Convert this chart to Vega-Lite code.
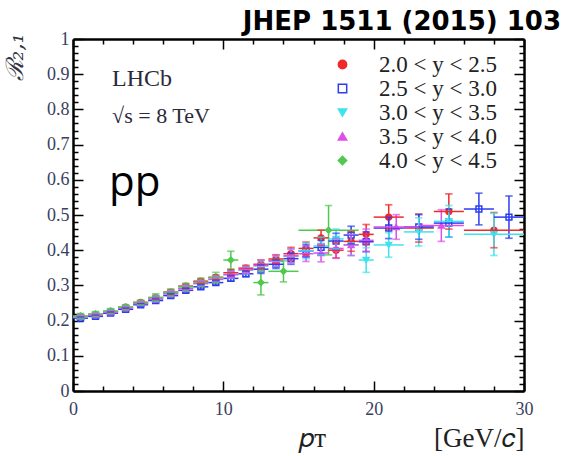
{
  "$schema": "https://vega.github.io/schema/vega-lite/v6.json",
  "width": 451,
  "height": 352,
  "autosize": {"type": "none"},
  "padding": {"left": 73, "top": 39, "right": 46, "bottom": 65},
  "background": "white",
  "config": {"view": {"stroke": null}},
  "title": {
    "text": "JHEP 1511 (2015) 103",
    "anchor": "end",
    "frame": "group",
    "dx": 37,
    "dy": 33,
    "offset": 2,
    "baseline": "bottom",
    "font": "DejaVu Sans",
    "fontSize": 26,
    "fontWeight": "bold",
    "color": "#000000"
  },
  "data": {
    "values": [
      {"s": "2.0 < y < 2.5", "pt": 0.5, "lo": 0, "hi": 1, "r": 0.212, "rlo": 0.208, "rhi": 0.216},
      {"s": "2.0 < y < 2.5", "pt": 1.5, "lo": 1, "hi": 2, "r": 0.217, "rlo": 0.213, "rhi": 0.221},
      {"s": "2.0 < y < 2.5", "pt": 2.5, "lo": 2, "hi": 3, "r": 0.226, "rlo": 0.222, "rhi": 0.230},
      {"s": "2.0 < y < 2.5", "pt": 3.5, "lo": 3, "hi": 4, "r": 0.238, "rlo": 0.234, "rhi": 0.242},
      {"s": "2.0 < y < 2.5", "pt": 4.5, "lo": 4, "hi": 5, "r": 0.252, "rlo": 0.248, "rhi": 0.256},
      {"s": "2.0 < y < 2.5", "pt": 5.5, "lo": 5, "hi": 6, "r": 0.265, "rlo": 0.259, "rhi": 0.271},
      {"s": "2.0 < y < 2.5", "pt": 6.5, "lo": 6, "hi": 7, "r": 0.281, "rlo": 0.275, "rhi": 0.287},
      {"s": "2.0 < y < 2.5", "pt": 7.5, "lo": 7, "hi": 8, "r": 0.298, "rlo": 0.292, "rhi": 0.304},
      {"s": "2.0 < y < 2.5", "pt": 8.5, "lo": 8, "hi": 9, "r": 0.312, "rlo": 0.306, "rhi": 0.318},
      {"s": "2.0 < y < 2.5", "pt": 9.5, "lo": 9, "hi": 10, "r": 0.323, "rlo": 0.317, "rhi": 0.329},
      {"s": "2.0 < y < 2.5", "pt": 10.5, "lo": 10, "hi": 11, "r": 0.336, "rlo": 0.328, "rhi": 0.344},
      {"s": "2.0 < y < 2.5", "pt": 11.5, "lo": 11, "hi": 12, "r": 0.349, "rlo": 0.341, "rhi": 0.357},
      {"s": "2.0 < y < 2.5", "pt": 12.5, "lo": 12, "hi": 13, "r": 0.360, "rlo": 0.348, "rhi": 0.372},
      {"s": "2.0 < y < 2.5", "pt": 13.5, "lo": 13, "hi": 14, "r": 0.375, "rlo": 0.363, "rhi": 0.387},
      {"s": "2.0 < y < 2.5", "pt": 14.5, "lo": 14, "hi": 15, "r": 0.390, "rlo": 0.372, "rhi": 0.408},
      {"s": "2.0 < y < 2.5", "pt": 15.5, "lo": 15, "hi": 16, "r": 0.405, "rlo": 0.387, "rhi": 0.423},
      {"s": "2.0 < y < 2.5", "pt": 16.5, "lo": 16, "hi": 17, "r": 0.435, "rlo": 0.413, "rhi": 0.457},
      {"s": "2.0 < y < 2.5", "pt": 17.5, "lo": 17, "hi": 18, "r": 0.400, "rlo": 0.378, "rhi": 0.422},
      {"s": "2.0 < y < 2.5", "pt": 18.5, "lo": 18, "hi": 19, "r": 0.425, "rlo": 0.397, "rhi": 0.453},
      {"s": "2.0 < y < 2.5", "pt": 19.5, "lo": 19, "hi": 20, "r": 0.445, "rlo": 0.417, "rhi": 0.473},
      {"s": "2.0 < y < 2.5", "pt": 21, "lo": 20, "hi": 22, "r": 0.494, "rlo": 0.459, "rhi": 0.529},
      {"s": "2.0 < y < 2.5", "pt": 23, "lo": 22, "hi": 24, "r": 0.463, "rlo": 0.423, "rhi": 0.503},
      {"s": "2.0 < y < 2.5", "pt": 25, "lo": 24, "hi": 26, "r": 0.510, "rlo": 0.460, "rhi": 0.560},
      {"s": "2.0 < y < 2.5", "pt": 28, "lo": 26, "hi": 30, "r": 0.457, "rlo": 0.407, "rhi": 0.507},

      {"s": "2.5 < y < 3.0", "pt": 0.5, "lo": 0, "hi": 1, "r": 0.207, "rlo": 0.203, "rhi": 0.211},
      {"s": "2.5 < y < 3.0", "pt": 1.5, "lo": 1, "hi": 2, "r": 0.212, "rlo": 0.208, "rhi": 0.216},
      {"s": "2.5 < y < 3.0", "pt": 2.5, "lo": 2, "hi": 3, "r": 0.221, "rlo": 0.217, "rhi": 0.225},
      {"s": "2.5 < y < 3.0", "pt": 3.5, "lo": 3, "hi": 4, "r": 0.232, "rlo": 0.228, "rhi": 0.236},
      {"s": "2.5 < y < 3.0", "pt": 4.5, "lo": 4, "hi": 5, "r": 0.245, "rlo": 0.241, "rhi": 0.249},
      {"s": "2.5 < y < 3.0", "pt": 5.5, "lo": 5, "hi": 6, "r": 0.257, "rlo": 0.251, "rhi": 0.263},
      {"s": "2.5 < y < 3.0", "pt": 6.5, "lo": 6, "hi": 7, "r": 0.271, "rlo": 0.265, "rhi": 0.277},
      {"s": "2.5 < y < 3.0", "pt": 7.5, "lo": 7, "hi": 8, "r": 0.286, "rlo": 0.280, "rhi": 0.292},
      {"s": "2.5 < y < 3.0", "pt": 8.5, "lo": 8, "hi": 9, "r": 0.296, "rlo": 0.290, "rhi": 0.302},
      {"s": "2.5 < y < 3.0", "pt": 9.5, "lo": 9, "hi": 10, "r": 0.308, "rlo": 0.302, "rhi": 0.314},
      {"s": "2.5 < y < 3.0", "pt": 10.5, "lo": 10, "hi": 11, "r": 0.320, "rlo": 0.312, "rhi": 0.328},
      {"s": "2.5 < y < 3.0", "pt": 11.5, "lo": 11, "hi": 12, "r": 0.333, "rlo": 0.325, "rhi": 0.341},
      {"s": "2.5 < y < 3.0", "pt": 12.5, "lo": 12, "hi": 13, "r": 0.346, "rlo": 0.334, "rhi": 0.358},
      {"s": "2.5 < y < 3.0", "pt": 13.5, "lo": 13, "hi": 14, "r": 0.360, "rlo": 0.348, "rhi": 0.372},
      {"s": "2.5 < y < 3.0", "pt": 14.5, "lo": 14, "hi": 15, "r": 0.376, "rlo": 0.360, "rhi": 0.392},
      {"s": "2.5 < y < 3.0", "pt": 15.5, "lo": 15, "hi": 16, "r": 0.398, "rlo": 0.380, "rhi": 0.416},
      {"s": "2.5 < y < 3.0", "pt": 16.5, "lo": 16, "hi": 17, "r": 0.408, "rlo": 0.388, "rhi": 0.428},
      {"s": "2.5 < y < 3.0", "pt": 17.5, "lo": 17, "hi": 18, "r": 0.426, "rlo": 0.404, "rhi": 0.448},
      {"s": "2.5 < y < 3.0", "pt": 18.5, "lo": 18, "hi": 19, "r": 0.443, "rlo": 0.418, "rhi": 0.468},
      {"s": "2.5 < y < 3.0", "pt": 19.5, "lo": 19, "hi": 20, "r": 0.424, "rlo": 0.396, "rhi": 0.452},
      {"s": "2.5 < y < 3.0", "pt": 21, "lo": 20, "hi": 22, "r": 0.463, "rlo": 0.433, "rhi": 0.493},
      {"s": "2.5 < y < 3.0", "pt": 23, "lo": 22, "hi": 24, "r": 0.466, "rlo": 0.431, "rhi": 0.501},
      {"s": "2.5 < y < 3.0", "pt": 25, "lo": 24, "hi": 26, "r": 0.477, "rlo": 0.437, "rhi": 0.517},
      {"s": "2.5 < y < 3.0", "pt": 27, "lo": 26, "hi": 28, "r": 0.517, "rlo": 0.472, "rhi": 0.562},
      {"s": "2.5 < y < 3.0", "pt": 29, "lo": 28, "hi": 30, "r": 0.494, "rlo": 0.434, "rhi": 0.554},

      {"s": "3.0 < y < 3.5", "pt": 0.5, "lo": 0, "hi": 1, "r": 0.210, "rlo": 0.205, "rhi": 0.215},
      {"s": "3.0 < y < 3.5", "pt": 1.5, "lo": 1, "hi": 2, "r": 0.216, "rlo": 0.211, "rhi": 0.221},
      {"s": "3.0 < y < 3.5", "pt": 2.5, "lo": 2, "hi": 3, "r": 0.225, "rlo": 0.220, "rhi": 0.230},
      {"s": "3.0 < y < 3.5", "pt": 3.5, "lo": 3, "hi": 4, "r": 0.236, "rlo": 0.231, "rhi": 0.241},
      {"s": "3.0 < y < 3.5", "pt": 4.5, "lo": 4, "hi": 5, "r": 0.249, "rlo": 0.244, "rhi": 0.254},
      {"s": "3.0 < y < 3.5", "pt": 5.5, "lo": 5, "hi": 6, "r": 0.262, "rlo": 0.254, "rhi": 0.270},
      {"s": "3.0 < y < 3.5", "pt": 6.5, "lo": 6, "hi": 7, "r": 0.277, "rlo": 0.269, "rhi": 0.285},
      {"s": "3.0 < y < 3.5", "pt": 7.5, "lo": 7, "hi": 8, "r": 0.292, "rlo": 0.284, "rhi": 0.300},
      {"s": "3.0 < y < 3.5", "pt": 8.5, "lo": 8, "hi": 9, "r": 0.306, "rlo": 0.298, "rhi": 0.314},
      {"s": "3.0 < y < 3.5", "pt": 9.5, "lo": 9, "hi": 10, "r": 0.318, "rlo": 0.310, "rhi": 0.326},
      {"s": "3.0 < y < 3.5", "pt": 10.5, "lo": 10, "hi": 11, "r": 0.330, "rlo": 0.320, "rhi": 0.340},
      {"s": "3.0 < y < 3.5", "pt": 11.5, "lo": 11, "hi": 12, "r": 0.343, "rlo": 0.333, "rhi": 0.353},
      {"s": "3.0 < y < 3.5", "pt": 12.5, "lo": 12, "hi": 13, "r": 0.355, "rlo": 0.340, "rhi": 0.370},
      {"s": "3.0 < y < 3.5", "pt": 13.5, "lo": 13, "hi": 14, "r": 0.368, "rlo": 0.353, "rhi": 0.383},
      {"s": "3.0 < y < 3.5", "pt": 14.5, "lo": 14, "hi": 15, "r": 0.383, "rlo": 0.363, "rhi": 0.403},
      {"s": "3.0 < y < 3.5", "pt": 15.5, "lo": 15, "hi": 16, "r": 0.398, "rlo": 0.376, "rhi": 0.420},
      {"s": "3.0 < y < 3.5", "pt": 16.5, "lo": 16, "hi": 17, "r": 0.412, "rlo": 0.387, "rhi": 0.437},
      {"s": "3.0 < y < 3.5", "pt": 17.5, "lo": 17, "hi": 18, "r": 0.432, "rlo": 0.404, "rhi": 0.460},
      {"s": "3.0 < y < 3.5", "pt": 18.5, "lo": 18, "hi": 19, "r": 0.415, "rlo": 0.385, "rhi": 0.445},
      {"s": "3.0 < y < 3.5", "pt": 19.5, "lo": 19, "hi": 20, "r": 0.372, "rlo": 0.337, "rhi": 0.407},
      {"s": "3.0 < y < 3.5", "pt": 21, "lo": 20, "hi": 22, "r": 0.415, "rlo": 0.380, "rhi": 0.450},
      {"s": "3.0 < y < 3.5", "pt": 23, "lo": 22, "hi": 24, "r": 0.452, "rlo": 0.412, "rhi": 0.492},
      {"s": "3.0 < y < 3.5", "pt": 25, "lo": 24, "hi": 26, "r": 0.482, "rlo": 0.437, "rhi": 0.527},
      {"s": "3.0 < y < 3.5", "pt": 28, "lo": 26, "hi": 30, "r": 0.445, "rlo": 0.385, "rhi": 0.505},

      {"s": "3.5 < y < 4.0", "pt": 0.5, "lo": 0, "hi": 1, "r": 0.211, "rlo": 0.206, "rhi": 0.216},
      {"s": "3.5 < y < 4.0", "pt": 1.5, "lo": 1, "hi": 2, "r": 0.215, "rlo": 0.210, "rhi": 0.220},
      {"s": "3.5 < y < 4.0", "pt": 2.5, "lo": 2, "hi": 3, "r": 0.224, "rlo": 0.219, "rhi": 0.229},
      {"s": "3.5 < y < 4.0", "pt": 3.5, "lo": 3, "hi": 4, "r": 0.235, "rlo": 0.230, "rhi": 0.240},
      {"s": "3.5 < y < 4.0", "pt": 4.5, "lo": 4, "hi": 5, "r": 0.248, "rlo": 0.243, "rhi": 0.253},
      {"s": "3.5 < y < 4.0", "pt": 5.5, "lo": 5, "hi": 6, "r": 0.261, "rlo": 0.253, "rhi": 0.269},
      {"s": "3.5 < y < 4.0", "pt": 6.5, "lo": 6, "hi": 7, "r": 0.276, "rlo": 0.268, "rhi": 0.284},
      {"s": "3.5 < y < 4.0", "pt": 7.5, "lo": 7, "hi": 8, "r": 0.291, "rlo": 0.283, "rhi": 0.299},
      {"s": "3.5 < y < 4.0", "pt": 8.5, "lo": 8, "hi": 9, "r": 0.305, "rlo": 0.297, "rhi": 0.313},
      {"s": "3.5 < y < 4.0", "pt": 9.5, "lo": 9, "hi": 10, "r": 0.317, "rlo": 0.309, "rhi": 0.325},
      {"s": "3.5 < y < 4.0", "pt": 10.5, "lo": 10, "hi": 11, "r": 0.331, "rlo": 0.321, "rhi": 0.341},
      {"s": "3.5 < y < 4.0", "pt": 11.5, "lo": 11, "hi": 12, "r": 0.345, "rlo": 0.335, "rhi": 0.355},
      {"s": "3.5 < y < 4.0", "pt": 12.5, "lo": 12, "hi": 13, "r": 0.357, "rlo": 0.342, "rhi": 0.372},
      {"s": "3.5 < y < 4.0", "pt": 13.5, "lo": 13, "hi": 14, "r": 0.370, "rlo": 0.355, "rhi": 0.385},
      {"s": "3.5 < y < 4.0", "pt": 14.5, "lo": 14, "hi": 15, "r": 0.384, "rlo": 0.364, "rhi": 0.404},
      {"s": "3.5 < y < 4.0", "pt": 15.5, "lo": 15, "hi": 16, "r": 0.390, "rlo": 0.368, "rhi": 0.412},
      {"s": "3.5 < y < 4.0", "pt": 16.5, "lo": 16, "hi": 17, "r": 0.392, "rlo": 0.367, "rhi": 0.417},
      {"s": "3.5 < y < 4.0", "pt": 17.5, "lo": 17, "hi": 18, "r": 0.405, "rlo": 0.377, "rhi": 0.433},
      {"s": "3.5 < y < 4.0", "pt": 18.5, "lo": 18, "hi": 19, "r": 0.415, "rlo": 0.385, "rhi": 0.445},
      {"s": "3.5 < y < 4.0", "pt": 19.5, "lo": 19, "hi": 20, "r": 0.428, "rlo": 0.396, "rhi": 0.460},
      {"s": "3.5 < y < 4.0", "pt": 21.5, "lo": 20, "hi": 23, "r": 0.466, "rlo": 0.431, "rhi": 0.501},
      {"s": "3.5 < y < 4.0", "pt": 24.5, "lo": 23, "hi": 26, "r": 0.470, "rlo": 0.425, "rhi": 0.515},

      {"s": "4.0 < y < 4.5", "pt": 0.5, "lo": 0, "hi": 1, "r": 0.213, "rlo": 0.206, "rhi": 0.220},
      {"s": "4.0 < y < 4.5", "pt": 1.5, "lo": 1, "hi": 2, "r": 0.219, "rlo": 0.212, "rhi": 0.226},
      {"s": "4.0 < y < 4.5", "pt": 2.5, "lo": 2, "hi": 3, "r": 0.227, "rlo": 0.220, "rhi": 0.234},
      {"s": "4.0 < y < 4.5", "pt": 3.5, "lo": 3, "hi": 4, "r": 0.238, "rlo": 0.231, "rhi": 0.245},
      {"s": "4.0 < y < 4.5", "pt": 4.5, "lo": 4, "hi": 5, "r": 0.251, "rlo": 0.244, "rhi": 0.258},
      {"s": "4.0 < y < 4.5", "pt": 5.5, "lo": 5, "hi": 6, "r": 0.266, "rlo": 0.256, "rhi": 0.276},
      {"s": "4.0 < y < 4.5", "pt": 6.5, "lo": 6, "hi": 7, "r": 0.280, "rlo": 0.270, "rhi": 0.290},
      {"s": "4.0 < y < 4.5", "pt": 7.5, "lo": 7, "hi": 8, "r": 0.296, "rlo": 0.286, "rhi": 0.306},
      {"s": "4.0 < y < 4.5", "pt": 8.5, "lo": 8, "hi": 9, "r": 0.309, "rlo": 0.297, "rhi": 0.321},
      {"s": "4.0 < y < 4.5", "pt": 9.5, "lo": 9, "hi": 10, "r": 0.322, "rlo": 0.307, "rhi": 0.337},
      {"s": "4.0 < y < 4.5", "pt": 10.5, "lo": 10, "hi": 11, "r": 0.372, "rlo": 0.347, "rhi": 0.397},
      {"s": "4.0 < y < 4.5", "pt": 12.5, "lo": 12, "hi": 13, "r": 0.308, "rlo": 0.273, "rhi": 0.343},
      {"s": "4.0 < y < 4.5", "pt": 14, "lo": 13, "hi": 15, "r": 0.340, "rlo": 0.310, "rhi": 0.370},
      {"s": "4.0 < y < 4.5", "pt": 17, "lo": 15, "hi": 19, "r": 0.457, "rlo": 0.387, "rhi": 0.527}
    ]
  },
  "resolve": {"axis": {"x": "independent", "y": "independent"}},
  "layer": [
    {
      "mark": {"type": "point", "size": 34, "strokeWidth": 1.5, "opacity": 1},
      "encoding": {
        "x": {
          "field": "pt", "type": "quantitative",
          "scale": {"domain": [0, 30], "nice": false, "zero": false},
          "axis": {
            "orient": "bottom",
            "values": [0, 2, 4, 6, 8, 10, 12, 14, 16, 18, 20, 22, 24, 26, 28, 30],
            "labelExpr": "datum.value % 10 === 0 ? datum.label : ''",
            "tickSize": {"condition": {"test": "datum.value % 10 === 0", "value": -10}, "value": -5},
            "tickColor": "#000000", "tickWidth": 1.5,
            "domainColor": "#000000", "domainWidth": 2.5,
            "grid": false,
            "labelPadding": 19,
            "labelFont": "Liberation Serif", "labelFontSize": 18, "labelColor": "#3a4060",
            "labelFlush": false, "labelOverlap": false,
            "title": "𝑝ᴛ\u00a0\u00a0\u00a0\u00a0\u00a0\u00a0\u00a0\u00a0\u00a0\u00a0\u00a0\u00a0\u00a0\u00a0\u00a0\u00a0[GeV/𝑐]",
            "titleFont": "Liberation Serif", "titleFontSize": 27, "titleFontWeight": "normal",
            "titleColor": "#222222", "titleAnchor": "end", "titlePadding": 2
          }
        },
        "y": {
          "field": "r", "type": "quantitative",
          "scale": {"domain": [0, 1], "nice": false, "zero": false},
          "axis": {
            "orient": "left",
            "values": [0, 0.02, 0.04, 0.06, 0.08, 0.1, 0.12, 0.14, 0.16, 0.18, 0.2, 0.22, 0.24, 0.26, 0.28, 0.3, 0.32, 0.34, 0.36, 0.38, 0.4, 0.42, 0.44, 0.46, 0.48, 0.5, 0.52, 0.54, 0.56, 0.58, 0.6, 0.62, 0.64, 0.66, 0.68, 0.7, 0.72, 0.74, 0.76, 0.78, 0.8, 0.82, 0.84, 0.86, 0.88, 0.9, 0.92, 0.94, 0.96, 0.98, 1],
            "labelExpr": "abs(datum.value*10 - round(datum.value*10)) < 0.001 ? format(datum.value, '.1~f') : ''",
            "tickSize": {"condition": {"test": "abs(datum.value*10 - round(datum.value*10)) < 0.001", "value": -10}, "value": -5},
            "tickColor": "#000000", "tickWidth": 1.5,
            "domainColor": "#000000", "domainWidth": 2.5,
            "grid": false,
            "labelPadding": 14,
            "labelFont": "Liberation Serif", "labelFontSize": 18, "labelColor": "#3a4060",
            "labelFlush": false, "labelOverlap": false,
            "title": "ℛ₂,₁",
            "titleFont": "DejaVu Serif", "titleFontSize": 24, "titleFontWeight": "normal", "titleFontStyle": "italic",
            "titleColor": "#333344", "titleX": -58, "titleY": -6, "titleAlign": "right", "titleBaseline": "middle", "titleAngle": -90
          }
        },
        "shape": {
          "field": "s", "type": "nominal",
          "scale": {"domain": ["2.0 < y < 2.5", "2.5 < y < 3.0", "3.0 < y < 3.5", "3.5 < y < 4.0", "4.0 < y < 4.5"], "range": ["circle", "square", "triangle-down", "triangle-up", "diamond"]},
          "legend": {
            "title": null, "orient": "none", "legendX": 258, "legendY": 14,
            "labelFont": "Liberation Serif", "labelFontSize": 23, "labelColor": "#222222",
            "symbolSize": 70, "symbolStrokeWidth": 1.5, "rowPadding": 0, "labelOffset": 25
          }
        },
        "stroke": {
          "field": "s", "type": "nominal",
          "scale": {"domain": ["2.0 < y < 2.5", "2.5 < y < 3.0", "3.0 < y < 3.5", "3.5 < y < 4.0", "4.0 < y < 4.5"], "range": ["#ee2a2a", "#2b3df0", "#3fe3f0", "#de4ee8", "#4fc94f"]},
          "legend": {
            "title": null, "orient": "none", "legendX": 258, "legendY": 14,
            "labelFont": "Liberation Serif", "labelFontSize": 23, "labelColor": "#222222",
            "symbolSize": 70, "symbolStrokeWidth": 1.5, "rowPadding": 0, "labelOffset": 25
          }
        },
        "fill": {
          "field": "s", "type": "nominal",
          "scale": {"domain": ["2.0 < y < 2.5", "2.5 < y < 3.0", "3.0 < y < 3.5", "3.5 < y < 4.0", "4.0 < y < 4.5"], "range": ["#ee2a2a", "#ffffff", "#3fe3f0", "#de4ee8", "#4fc94f"]},
          "legend": {
            "title": null, "orient": "none", "legendX": 258, "legendY": 14,
            "labelFont": "Liberation Serif", "labelFontSize": 23, "labelColor": "#222222",
            "symbolSize": 70, "symbolStrokeWidth": 1.5, "rowPadding": 0, "labelOffset": 25
          }
        }
      }
    },
    {
      "mark": {"type": "rule", "strokeWidth": 1.5},
      "encoding": {
        "x": {"field": "pt", "type": "quantitative", "axis": null},
        "y": {"field": "rlo", "type": "quantitative", "axis": null},
        "y2": {"field": "rhi"},
        "stroke": {"field": "s", "type": "nominal"}
      }
    },
    {
      "mark": {"type": "rule", "strokeWidth": 1.5},
      "encoding": {
        "x": {"field": "lo", "type": "quantitative", "axis": null},
        "x2": {"field": "hi"},
        "y": {"field": "r", "type": "quantitative", "axis": null},
        "stroke": {"field": "s", "type": "nominal"}
      }
    },
    {
      "mark": {"type": "tick", "orient": "horizontal", "filled": false, "size": 6, "thickness": 0.3, "strokeWidth": 1.4},
      "encoding": {
        "x": {"field": "pt", "type": "quantitative", "axis": null},
        "y": {"field": "rlo", "type": "quantitative", "axis": null},
        "stroke": {"field": "s", "type": "nominal"}
      }
    },
    {
      "mark": {"type": "tick", "orient": "horizontal", "filled": false, "size": 6, "thickness": 0.3, "strokeWidth": 1.4},
      "encoding": {
        "x": {"field": "pt", "type": "quantitative", "axis": null},
        "y": {"field": "rhi", "type": "quantitative", "axis": null},
        "stroke": {"field": "s", "type": "nominal"}
      }
    },
    {
      "mark": {"type": "point", "opacity": 0},
      "encoding": {
        "x": {
          "field": "pt", "type": "quantitative",
          "axis": {
            "orient": "top",
            "values": [0, 2, 4, 6, 8, 10, 12, 14, 16, 18, 20, 22, 24, 26, 28, 30],
            "labels": false,
            "tickSize": {"condition": {"test": "datum.value % 10 === 0", "value": -10}, "value": -5},
            "tickColor": "#000000", "tickWidth": 1.5,
            "domainColor": "#000000", "domainWidth": 2.5,
            "grid": false, "title": null
          }
        },
        "y": {
          "field": "r", "type": "quantitative",
          "axis": {
            "orient": "right",
            "values": [0, 0.02, 0.04, 0.06, 0.08, 0.1, 0.12, 0.14, 0.16, 0.18, 0.2, 0.22, 0.24, 0.26, 0.28, 0.3, 0.32, 0.34, 0.36, 0.38, 0.4, 0.42, 0.44, 0.46, 0.48, 0.5, 0.52, 0.54, 0.56, 0.58, 0.6, 0.62, 0.64, 0.66, 0.68, 0.7, 0.72, 0.74, 0.76, 0.78, 0.8, 0.82, 0.84, 0.86, 0.88, 0.9, 0.92, 0.94, 0.96, 0.98, 1],
            "labels": false,
            "tickSize": {"condition": {"test": "abs(datum.value*10 - round(datum.value*10)) < 0.001", "value": -10}, "value": -5},
            "tickColor": "#000000", "tickWidth": 1.5,
            "domainColor": "#000000", "domainWidth": 2.5,
            "grid": false, "title": null
          }
        }
      }
    },
    {
      "data": {"values": [{}]},
      "mark": {"type": "text", "text": "LHCb", "align": "left", "baseline": "middle", "font": "Liberation Serif", "fontSize": 24, "color": "#2a2a3a"},
      "encoding": {
        "x": {"datum": 2.6, "type": "quantitative", "axis": null},
        "y": {"datum": 0.885, "type": "quantitative", "axis": null}
      }
    },
    {
      "data": {"values": [{}]},
      "mark": {"type": "text", "text": "√s = 8 TeV", "align": "left", "baseline": "middle", "font": "Liberation Serif", "fontSize": 22, "color": "#2a2a3a"},
      "encoding": {
        "x": {"datum": 2.6, "type": "quantitative", "axis": null},
        "y": {"datum": 0.78, "type": "quantitative", "axis": null}
      }
    },
    {
      "data": {"values": [{}]},
      "mark": {"type": "text", "text": "pp", "align": "left", "baseline": "middle", "font": "Open Sans", "fontSize": 42, "color": "#000000"},
      "encoding": {
        "x": {"datum": 2.4, "type": "quantitative", "axis": null},
        "y": {"datum": 0.59, "type": "quantitative", "axis": null}
      }
    }
  ]
}
